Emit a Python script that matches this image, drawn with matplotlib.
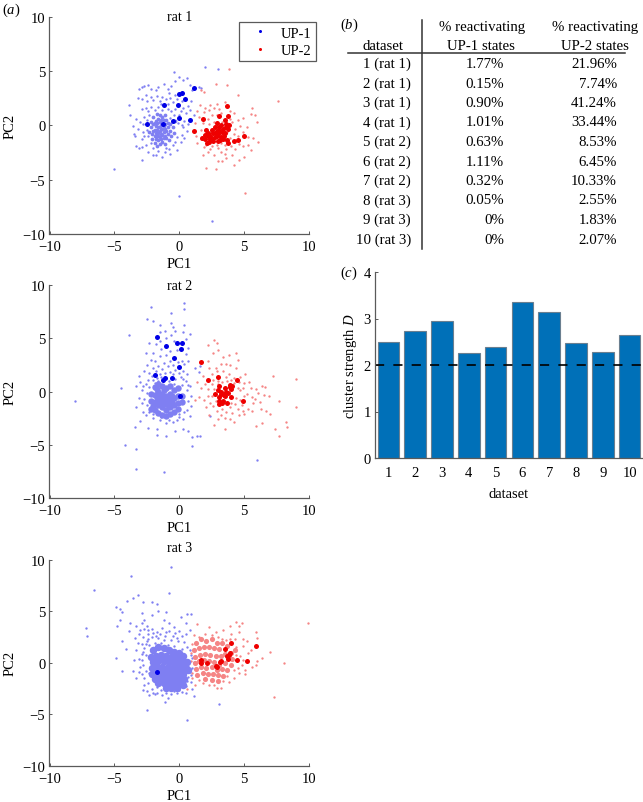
import numpy as np
from matplotlib import pyplot as plt

plt.rcParams['font.family'] = ['Liberation Serif', 'DejaVu Serif']
plt.rcParams['mathtext.fontset'] = 'custom'
plt.rcParams['mathtext.rm'] = 'Liberation Serif'
plt.rcParams['mathtext.it'] = 'Liberation Serif:italic'

W, H = 643, 803
GREY = '#5a5a5a'
BLUE, RED = '#0000e6', '#ee0000'
FAINT_BLUE, FAINT_RED = '#7f7ff2', '#f58585'

# values, (PC1, PC2)
rat1_up1 = [(-5.0, -4.0), (0.0, -6.5), (2.5, -8.8), (-0.4, 4.9), (2.0, 5.35), (3.0, 5.2), (-3.9, 1.9), (-3.8, 0.9),
            (-3.6, -0.1), (-3.5, -0.8), (-3.3, -1.9), (-3.2, -0.3), (-3.1, -2.1), (-2.9, -3.2), (-3.1, 3.3), (-2.9, 3.5),
            (-2.7, 3.6), (-2.4, 3.7), (-2.2, 3.3), (-1.8, 3.2), (-1.6, 3.5), (-1.2, 3.8), (-0.9, 3.3), (-0.8, 3.0),
            (-0.6, 3.6), (-0.3, 4.1), (0.0, 4.4), (0.3, 4.2), (0.6, 4.3), (0.8, 3.7), (1.0, 3.2), (1.5, 3.5), (1.7, 3.4),
            (-3.2, 2.5), (-2.9, 2.4), (-2.6, 2.8), (-2.5, 2.2), (-2.2, 2.6), (-2.0, 2.3), (-1.7, 2.7), (-1.5, 2.2),
            (-1.3, 2.6), (-1.0, 2.4), (-0.7, 2.5), (-0.5, 2.1), (-0.3, 2.8), (0.2, 2.2), (0.3, 1.6), (0.7, 1.8), (0.9, 2.2),
            (-2.9, 1.5), (-2.6, 1.6), (-2.4, 1.3), (-2.2, 1.7), (-1.9, 1.4), (-1.6, 1.7), (-1.3, 1.4), (-0.9, 1.5),
            (-0.6, 1.3), (-0.3, 1.5), (0.1, 1.3), (0.5, 1.1), (0.8, 1.4), (1.1, 0.9), (0.4, 0.4), (0.7, 0.1), (0.3, -0.2),
            (0.6, -0.5), (-3.0, 0.3), (-2.8, -0.6), (-2.9, -1.3), (-2.7, 0.8), (-2.6, -1.8), (-2.4, -2.5), (-2.2, -1.6),
            (-2.0, -2.7), (-1.6, -2.4), (-1.3, -2.9), (-1.0, -2.1), (-0.7, -2.6), (-0.5, -1.8), (-0.2, -2.3), (0.1, -1.5),
            (0.2, -0.9), (-0.2, -1.1), (-0.1, 0.2), (-0.4, 0.9), (-0.7, 0.7), (-2.5, 0.5), (-2.3, 0.9), (-2.5, -0.4),
            (-2.4, -1.0), (-3.3, 0.6), (-3.4, -1.0), (-2.8, 0.1), (-2.7, -1.0), (-2.9, -2.0), (-2.0, -2.1), (-1.8, -2.7),
            (-1.1, -2.5), (-0.8, -2.2), (-0.3, -1.5), (0.4, -1.2), (0.0, 0.9), (0.2, 0.0), (-0.2, 2.4), (-0.9, 2.0), (-1.4, 2.0)]
rat1_up1_core = [(-2.2, -0.2), (-2.2, 0.3), (-2.1, -0.8), (-2.1, -1.3), (-2.0, 0.8), (-2.0, 0.1), (-1.9, -0.4), (-1.9, -1.0), (-1.9, -1.6),
                 (-1.8, 0.4), (-1.8, -0.1), (-1.8, -0.7), (-1.8, -1.3), (-1.7, 1.0), (-1.7, 0.2), (-1.7, -0.4), (-1.7, -1.0), (-1.7, -1.9),
                 (-1.6, 0.6), (-1.6, -0.2), (-1.6, -0.7), (-1.6, -1.4), (-1.5, 0.9), (-1.5, 0.3), (-1.5, -0.5), (-1.5, -1.1), (-1.5, -1.7),
                 (-1.4, 0.5), (-1.4, 0.0), (-1.4, -0.8), (-1.4, -1.3), (-1.3, 0.8), (-1.3, -0.3), (-1.3, -0.9), (-1.3, -1.5), (-1.2, 0.5),
                 (-1.2, -0.6), (-1.2, -1.2), (-1.1, 0.9), (-1.1, 0.1), (-1.1, -0.3), (-1.1, -1.0), (-1.1, -1.7), (-1.0, 0.5), (-1.0, -0.5),
                 (-1.0, -1.2), (-0.9, 0.2), (-0.9, -0.2), (-0.9, -0.8), (-0.8, -1.4), (-0.7, 0.1), (-0.7, -0.5), (-0.6, -1.0), (-0.5, -0.2),
                 (-0.4, -0.7), (-0.3, 0.4), (-2.3, -0.6), (-2.0, -0.5), (-1.6, -1.0), (-1.4, -0.3), (-1.9, 0.2), (-1.2, -0.1), (-1.5, -0.2)]
rat1_up2 = [(7.6, 2.2), (5.1, -6.2), (4.5, 2.8), (1.7, 3.2), (1.9, 3.1), (3.8, 5.2), (2.8, 3.8), (3.7, 3.7), (5.6, 1.6),
            (5.5, 1.0), (6.0, 0.3), (5.8, 0.9), (6.1, -1.5), (5.7, -1.2), (5.3, -1.8), (5.5, -2.3), (5.0, -2.9), (4.3, -2.2),
            (4.6, -3.2), (4.2, -3.7), (3.6, -3.0), (3.3, -3.3), (3.0, -3.3), (2.1, -3.9), (2.8, -4.0), (1.8, -2.7),
            (1.9, -2.0), (1.4, -1.6), (1.3, -1.0), (1.2, 0.2), (1.5, 0.8), (1.4, 1.3), (1.9, 1.2), (2.3, 1.4), (2.7, 1.6),
            (3.1, 1.5), (3.5, 2.1), (3.9, 1.3), (4.2, 1.1), (4.5, 0.5), (4.9, 0.7), (4.7, -0.1), (5.2, -0.2), (4.9, -0.6),
            (5.3, -1.1), (4.5, -1.0), (4.6, -1.7), (4.0, -1.9), (3.6, -2.2), (3.2, -2.5), (2.7, -2.7), (2.4, -2.2),
            (2.1, -1.8), (1.7, -1.3), (1.7, -0.4), (1.8, 0.2), (2.2, 0.6), (2.5, 0.9), (2.9, 0.9), (2.3, 0.1), (2.7, 0.3),
            (3.3, 0.3), (3.7, 0.1), (4.1, 0.3), (4.3, -0.3), (2.0, -0.9), (2.4, -0.7), (2.6, -1.3), (2.9, -1.8), (3.2, -1.6),
            (3.5, -1.8), (3.9, -1.2), (4.2, -0.8), (3.1, -0.3), (3.4, -0.6), (2.8, -0.5), (3.7, -0.6), (2.5, -1.9), (3.0, -2.1),
            (2.0, 1.6), (2.4, 1.9), (2.9, 2.0), (3.2, 1.1), (1.6, 1.9), (3.5, -2.6), (4.1, -2.7), (4.9, -1.9), (2.2, -2.5), (3.9, 0.6)]
rat1_up1_big = [(-2.5, 0.1), (-1.23, 0.15), (-0.5, 0.35), (-0.05, 0.7), (0.85, 0.5), (-1.15, 1.87), (-0.1, 1.85), (0.46, 2.4),
                (0.0, 2.9), (0.2, 3.0), (1.13, 3.43)]
rat1_up2_big = [(1.15, -0.5), (1.8, 0.6), (3.65, 1.8), (3.05, 0.85), (3.77, 0.85), (3.5, 0.5), (2.9, 0.25), (2.1, -0.4),
                (2.2, -0.7), (2.0, -1.3), (1.75, -1.15), (2.6, -0.7), (2.9, -0.5), (3.1, -0.2), (3.4, -0.35), (3.85, 0.0),
                (3.75, -0.35), (2.9, -1.0), (3.0, -1.45), (2.6, -1.45), (3.25, -1.1), (3.75, -1.6), (4.2, -1.45), (4.55, -1.35),
                (5.0, -1.0), (2.15, -1.6), (2.35, -1.3), (3.5, -0.7), (2.75, -0.2), (3.3, -0.65), (2.4, -1.0), (3.0, -0.8),
                (2.25, -1.0), (2.5, -0.4), (2.75, -1.1), (3.1, -0.55), (3.45, -1.0), (3.6, -0.2), (3.2, 0.05), (2.55, -1.25),
                (3.7, -1.35), (3.35, -1.3), (2.85, -0.75), (3.6, 0.1), (3.15, -1.35), (1.95, -0.9), (2.3, -1.55)]

rat2_up1 = [(-8.0, -0.9), (-3.9, 5.3), (-4.5, 0.3), (-4.2, -5.0), (-3.3, -5.4), (-3.3, -7.3), (-1.2, -7.6), (6.0, -6.4), (-2.2, 7.9),
            (-2.5, 6.8), (0.4, 8.3), (0.4, 7.7), (-0.6, 7.4), (-0.6, 6.4), (-0.5, 6.1), (-2.0, 6.6), (-1.5, 6.2), (0.4, 6.2),
            (1.0, -5.1), (1.4, -4.2), (1.6, -4.2), (1.0, -4.3), (0.7, -3.7), (0.3, -3.5), (-0.3, -3.7), (-1.0, -4.2), (-1.7, -4.1),
            (-1.7, -3.5), (-2.4, -3.4), (-3.0, -2.8), (-3.4, -3.3), (-2.8, -1.9), (-3.3, -1.5), (-3.1, -0.6), (-3.3, 0.5),
            (-3.0, 0.9), (-3.1, 1.5), (-2.7, 1.9), (-2.9, 0.1), (-2.5, 2.5), (-2.2, 3.0), (-2.6, 3.6), (-2.0, 3.6), (-1.8, 4.5),
            (-2.3, 4.6), (-1.5, 5.6), (-1.1, 5.7), (-0.6, 5.3), (-0.3, 5.7), (0.3, 5.6), (0.8, 5.4), (0.5, 4.9), (0.7, 4.1),
            (-0.4, 4.7), (-1.0, 5.0), (-1.5, 4.7), (-1.4, 4.0), (-0.7, 3.8), (-0.2, 3.9), (0.5, 3.5), (0.7, 2.9), (0.4, 2.6),
            (-1.9, 2.9), (-1.5, 3.3), (-1.0, 3.4), (-0.7, 2.9), (-1.2, 2.7), (-1.6, 2.4), (-2.0, 2.2), (-2.3, 1.7), (-1.8, 1.9),
            (-1.3, 2.1), (-0.9, 2.4), (-0.5, 2.5), (-0.1, 2.8), (0.2, 2.9), (-0.3, 2.0), (0.3, 1.9), (0.6, 1.6), (-0.7, 1.8),
            (-1.1, 1.7), (-1.5, 1.6), (-2.4, 1.1), (-2.0, 1.1), (-1.6, 1.0), (-0.8, 1.0), (-0.3, 1.2), (0.1, 1.4), (0.5, 1.0),
            (0.8, 0.5), (-2.6, 0.7), (0.2, 0.6), (0.6, 0.1), (0.9, -0.4), (0.7, -0.9), (0.9, -1.4), (0.4, -1.9), (0.0, -2.4),
            (-0.5, -2.9), (-1.0, -3.0), (-1.5, -2.7), (-2.0, -2.5), (-2.5, -1.3), (-2.7, -0.7), (-2.5, -0.1), (-2.3, 0.4),
            (1.2, 2.2), (1.5, 1.8), (1.6, 2.4), (2.4, -2.3), (0.0, -2.1), (-2.6, -2.2), (-2.3, -1.9), (-2.0, -2.1), (-1.4, -2.4),
            (-0.8, -2.7), (-0.2, -2.7), (0.3, -2.6), (0.8, -2.3), (0.6, -1.7), (-2.9, -1.1), (-2.8, 0.5), (-1.4, 1.4), (-1.0, 1.3),
            (-0.5, 1.6), (0.0, 1.7), (0.3, 1.2), (-1.9, 0.8), (-0.4, 0.7), (0.7, 0.6), (-2.1, 1.5), (-1.7, 1.3)]
rat2_up1_core = [(-2.2, -0.2), (-2.2, -0.9), (-2.2, -1.6), (-1.9, 0.4), (-1.9, -0.3), (-1.9, -1.0), (-1.9, -1.7), (-1.6, 0.7), (-1.6, 0.0),
                 (-1.6, -0.7), (-1.6, -1.3), (-1.6, -2.0), (-1.3, 0.5), (-1.3, -0.2), (-1.3, -0.9), (-1.3, -1.5), (-1.3, -2.2), (-1.0, 0.3),
                 (-1.0, -0.4), (-1.0, -1.0), (-1.0, -1.7), (-1.0, -2.3), (-0.7, 0.5), (-0.7, -0.2), (-0.7, -0.9), (-0.7, -1.5), (-0.7, -2.1),
                 (-0.4, 0.1), (-0.4, -0.6), (-0.4, -1.3), (-0.4, -1.9), (-0.1, 0.3), (-0.1, -0.4), (-0.1, -1.1), (-0.1, -1.6), (0.2, -0.4),
                 (0.2, -1.0), (-1.15, -0.6), (-1.45, -0.5), (-0.85, -0.7), (-1.15, -1.2), (-0.85, -1.25), (-1.45, -1.1), (-1.75, -0.5),
                 (-0.55, -0.45), (-0.55, -1.0), (-1.75, 0.2), (-2.0, -1.35), (-1.15, 0.1)]
rat2_up2 = [(9.0, 1.2), (9.0, -1.5), (8.2, -2.9), (8.3, -3.3), (7.4, -3.5), (7.7, -4.2), (7.2, 1.5), (7.7, -0.9), (6.9, -0.4), (7.0, -2.1),
            (6.7, -1.8), (6.4, -3.0), (5.9, -3.2), (6.3, -1.6), (6.2, -1.0), (6.4, 0.5), (6.6, 0.4), (6.1, -0.1), (5.6, -0.5), (5.9, 0.2),
            (5.4, 0.9), (5.1, 1.6), (5.0, 0.8), (5.2, -0.2), (4.7, 0.1), (4.8, -1.3), (5.3, -1.6), (5.6, -1.8), (4.6, -2.2), (4.2, -2.9),
            (3.5, -2.5), (2.7, -3.1), (3.5, -3.5), (2.3, -2.2), (2.4, -1.1), (1.9, -0.8), (1.5, -0.5), (1.2, -0.8), (2.2, 0.2), (2.0, 0.7),
            (2.5, 0.7), (2.8, -0.9), (2.3, 2.2), (2.2, 2.9), (2.6, 3.6), (2.7, 4.8), (2.9, 4.6), (2.2, 4.4), (3.0, 3.9), (3.4, 3.2), (3.8, 3.4),
            (4.4, 3.6), (4.5, 3.0), (4.4, 2.2), (3.9, 2.5), (3.2, 2.6), (2.8, 2.2), (2.9, 1.9), (3.4, 1.9), (3.8, 1.6), (4.2, 1.3), (4.7, 1.4),
            (3.3, 0.9), (3.7, 1.0), (4.2, 0.8), (4.5, 0.3), (4.4, -0.6), (4.3, -1.2), (3.9, -1.5), (3.6, -1.9), (2.9, -1.8), (2.5, -0.4),
            (2.7, 0.2), (4.7, -0.8), (4.1, -2.0), (1.8, 1.5), (2.5, 1.6), (3.0, 0.7), (5.7, -1.1), (5.0, -2.1), (3.2, -2.2), (1.4, 0.9),
            (2.2, -0.4), (2.6, 1.1), (3.0, 1.0), (3.6, 1.4), (4.0, 1.1), (4.6, 0.9), (4.9, 0.3), (5.0, -0.4), (4.5, -1.6), (4.0, -1.1), (3.3, -1.6),
            (2.6, -1.4), (2.1, -1.5), (1.7, 0.3), (5.5, 0.3), (5.8, -0.7), (6.5, -0.3), (4.9, -1.8), (3.0, -2.6), (3.9, -2.6), (3.6, 2.6)]
rat2_up1_big = [(-1.75, 5.15), (-1.05, 4.25), (-0.2, 4.6), (0.25, 4.55), (0.1, 4.0), (-0.4, 3.1), (0.0, 2.3), (-1.9, 1.55), (-1.25, 1.1),
                (-1.1, 1.3), (-0.55, 1.3), (0.05, -0.4)]
rat2_up2_big = [(1.65, 2.75), (2.25, 1.1), (3.0, 1.4), (4.45, 1.05), (4.95, -0.9), (3.05, 0.5), (2.75, -0.25), (3.0, 0.1), (3.25, 0.0),
                (3.55, 0.3), (3.9, 0.6), (4.1, 0.5), (4.0, 0.2), (3.75, -0.15), (4.0, -0.5), (3.45, -0.3), (3.1, -0.55), (3.1, -0.9),
                (3.1, -1.2), (3.4, -0.85), (3.65, -1.1), (3.5, -0.4), (3.3, -1.05), (3.9, 0.4), (3.2, -0.2), (3.6, -0.05)]

rat3_up1 = [(-0.6, 9.3), (-3.7, 8.4), (-6.6, 7.1), (-0.8, 6.8), (-3.6, 6.3), (-4.0, 6.0), (-3.2, 6.6), (-2.8, 5.9), (-2.1, 5.9), (-1.7, 5.7),
            (-7.2, 3.4), (-7.1, 2.6), (-4.9, 5.4), (-4.6, 5.2), (-4.4, 4.9), (-4.6, 4.2), (-4.8, 3.6), (-3.8, 3.9), (-3.9, 3.1), (-4.4, 2.1), (-4.1, 1.3),
            (-4.9, 0.5), (-4.4, -0.8), (-3.6, -0.8), (-3.3, -1.5), (-3.1, -0.9), (-3.1, 0.4), (-3.3, 1.2), (-2.9, 1.8), (-3.1, 2.8), (-3.3, 3.6),
            (-2.9, 4.8), (-2.7, 4.2), (-2.5, 3.6), (-2.1, 4.6), (-1.6, 5.0), (-1.2, 4.2), (-1.0, 4.9), (-0.8, 3.9), (-0.4, 3.5), (0.1, 4.4), (0.6, 4.7),
            (0.9, 4.7), (0.5, 3.9), (0.8, 3.2), (0.2, 2.6), (-0.3, 2.9), (-0.8, 3.1), (-1.3, 3.4), (-1.7, 3.0), (-2.1, 3.3), (-2.4, 2.8), (-2.8, 2.5),
            (-2.5, 2.1), (-2.1, 2.5), (-1.6, 2.4), (-1.1, 2.6), (-0.6, 2.2), (-0.1, 2.1), (0.4, 2.0), (0.8, 1.2), (0.9, 0.8), (0.6, 1.5), (0.2, 1.3),
            (-2.7, 1.4), (-2.3, 1.7), (-1.9, 1.9), (-1.4, 1.9), (-0.9, 1.7), (-0.4, 1.6), (-2.9, 0.9), (-2.6, 0.8), (-2.8, -0.2), (-2.6, -0.8), (-2.7, -1.5),
            (-2.4, -2.0), (-2.5, -2.7), (-2.1, -2.5), (-2.3, -3.1), (-1.9, -3.0), (-1.3, -3.1), (-1.1, -3.8), (-0.9, -3.4), (-0.6, -3.0), (-0.2, -2.9),
            (0.2, -2.8), (0.5, -2.9), (1.0, -2.5), (-2.5, -4.6), (0.6, -5.5), (3.1, -4.0), (1.1, -3.2), (0.9, -1.9), (0.9, -1.2), (1.0, -0.5),
            (1.0, 0.5), (-2.2, 0.2), (-2.3, -1.0), (-2.0, 1.1), (-1.7, -2.3), (-1.4, -2.6), (0.5, -2.2), (0.7, -1.4), (0.7, -0.3),
            (-3.0, 3.2), (-2.7, 3.3), (-2.9, 3.9), (-2.4, 3.2), (-2.0, 2.9), (-1.5, 2.8), (-1.0, 3.0), (-0.5, 2.6), (0.0, 3.1), (0.5, 2.8), (-3.2, 1.9),
            (-3.5, 0.3), (-3.4, 2.4), (-2.6, 1.8), (-2.8, 1.1), (-2.4, 2.3), (-1.8, 2.6), (-1.2, 2.2), (-0.2, 2.4), (-2.9, 0.3), (-3.0, -0.4), (-2.9, -1.1),
            (-2.7, -2.1), (-2.8, -2.6), (-2.0, -2.9), (-1.7, -2.9), (-1.0, -2.9), (-0.4, -2.7), (0.0, -2.6), (0.6, -1.8), (0.8, -0.9), (1.1, 0.1)]
rat3_up1_core = [(-2.0, 1.2), (-1.6, 1.5), (-1.2, 1.4), (-0.8, 1.2), (-0.4, 1.1), (0.0, 1.0), (0.3, 0.7), (-2.2, 0.6), (-1.8, 0.7), (-1.4, 0.8),
                 (-1.0, 0.7), (-0.6, 0.6), (-0.2, 0.5), (0.2, 0.3), (0.6, 0.1), (-2.0, 0.1), (-1.6, 0.2), (-1.2, 0.2), (-0.8, 0.1), (-0.4, 0.0),
                 (0.0, -0.1), (0.4, -0.2), (-2.1, -0.5), (-1.7, -0.4), (-1.3, -0.4), (-0.9, -0.4), (-0.5, -0.5), (-0.1, -0.5), (0.3, -0.6), (0.7, -0.7),
                 (-2.1, -1.1), (-1.7, -1.0), (-1.3, -1.0), (-0.9, -1.0), (-0.5, -1.0), (-0.1, -1.0), (0.3, -1.1), (-1.9, -1.6), (-1.5, -1.5), (-1.1, -1.5),
                 (-0.7, -1.5), (-0.3, -1.5), (0.1, -1.5), (0.4, -1.6), (-1.6, -2.0), (-1.2, -2.0), (-0.8, -2.0), (-0.4, -2.0), (0.0, -2.0), (0.3, -2.1),
                 (-1.0, -2.4), (-0.6, -2.4), (-0.2, -2.4), (-1.4, 0.4), (-1.0, 0.35), (-0.6, 0.25), (-1.5, -0.7), (-1.1, -0.7), (-0.7, -0.7), (-0.3, -0.75),
                 (-1.1, -1.25), (-0.7, -1.25), (-0.3, -1.25), (-0.9, -1.75), (-0.5, -1.75)]
rat3_up2 = [(9.9, 3.9), (8.1, 0.0), (7.0, 1.1), (7.3, -3.3), (6.4, 0.5), (5.9, 3.0), (6.0, 2.4), (5.9, -0.2), (5.6, -0.4), (5.1, -0.7), (5.1, -1.1),
            (6.0, 0.2), (5.5, 1.2), (4.9, 1.6), (5.2, 2.1), (4.9, 2.3), (4.6, 3.6), (4.4, 4.0), (4.8, 3.9), (4.6, 3.0), (4.0, 2.8), (3.9, 3.6), (3.4, 3.2),
            (2.3, 3.5), (2.0, 2.8), (1.4, 3.8), (1.1, 2.7), (2.8, 3.0), (3.0, 2.5), (3.6, 2.2), (4.3, 2.3), (4.7, 0.7), (4.9, 0.3), (4.5, -0.5), (4.6, -1.0),
            (4.2, -1.5), (3.8, -1.9), (3.2, -2.4), (2.9, -2.4), (2.3, -2.1), (1.8, -2.0), (1.2, -2.1), (0.6, -2.5), (1.0, -1.5), (0.8, -0.7),
            (1.5, 2.5), (2.5, 2.7), (3.3, 2.3), (4.0, 1.9), (4.4, 1.5), (4.4, 0.8), (4.2, -0.7), (3.7, -1.3), (3.4, -1.8), (2.7, -2.1), (1.5, -1.7), (1.0, -1.0),
            (0.9, 0.2), (0.9, 1.0), (1.0, 1.8), (4.8, -0.2), (3.9, 2.3), (5.3, 1.0)]
rat3_up2_core = [(1.3, 1.9), (1.7, 2.3), (2.1, 2.1), (2.5, 2.3), (2.9, 1.9), (3.3, 1.9), (3.7, 1.6), (1.1, 1.2), (1.5, 1.4), (1.9, 1.5), (2.3, 1.5),
                 (2.7, 1.4), (3.1, 1.3), (3.5, 0.9), (4.0, 1.0), (4.3, 1.2), (1.2, 0.6), (1.6, 0.8), (2.0, 0.9), (2.4, 0.8), (2.8, 0.7), (3.2, 0.7), (4.1, 0.4),
                 (1.2, 0.0), (1.5, 0.2), (1.9, 0.3), (2.3, 0.2), (2.7, 0.1), (3.1, -0.2), (3.5, 0.0), (4.0, -0.2), (1.3, -0.6), (1.7, -0.4), (2.1, -0.5),
                 (2.5, -0.4), (2.9, -0.7), (3.3, -0.6), (3.7, -0.7), (1.4, -1.2), (1.8, -1.0), (2.2, -1.1), (2.6, -1.1), (3.0, -1.2), (3.4, -1.3), (2.0, -1.6),
                 (2.5, -1.7), (3.0, -1.8)]
rat3_up1_big = [(-1.7, -0.87)]
rat3_up2_big = [(1.65, 0.25), (1.7, 0.0), (2.15, -0.05), (2.8, -0.35), (2.9, -0.4), (3.15, 0.1), (3.25, 0.2), (3.55, 1.3), (4.0, 1.9), (5.9, 1.6),
                (5.2, 0.2), (4.45, 0.25), (3.9, 1.0), (3.85, 0.75), (3.65, 0.65), (3.75, 0.4)]

datasets = ['1 (rat 1)', '2 (rat 1)', '3 (rat 1)', '4 (rat 1)', '5 (rat 2)', '6 (rat 2)', '7 (rat 2)', '8 (rat 3)', '9 (rat 3)', '10 (rat 3)']
react_up1 = ['1.77%', '0.15%', '0.90%', '1.01%', '0.63%', '1.11%', '0.32%', '0.05%', '0%', '0%']
react_up2 = ['21.96%', '7.74%', '41.24%', '33.44%', '8.53%', '6.45%', '10.33%', '2.55%', '1.83%', '2.07%']

dataset_ids = list(range(1, 11))
cluster_strength = [2.49, 2.74, 2.94, 2.26, 2.38, 3.35, 3.15, 2.48, 2.27, 2.64]
threshold = 2


def axes_px(fig, left, top, right, bottom):
    return fig.add_axes([left / W, 1 - bottom / H, (right - left) / W, (bottom - top) / H])


def style_axes(ax):
    for s in ['top', 'right']:
        ax.spines[s].set_visible(False)
    for s in ['left', 'bottom']:
        ax.spines[s].set_color(GREY)
        ax.spines[s].set_linewidth(0.9)
    ax.tick_params(direction='in', length=2.5, width=0.7, color=GREY, labelsize=10.5, pad=3)


def scatter_panel(fig, box, title, title_y, up1, up2, up1_core, up2_core, core_ms, up1_big, up2_big):
    ax = axes_px(fig, *box)
    for pts, col, ms in [(up1, FAINT_BLUE, 1.7), (up2, FAINT_RED, 1.7), (up1_core, FAINT_BLUE, core_ms[0]), (up2_core, FAINT_RED, core_ms[1]),
                         (up1_big, BLUE, 3.6), (up2_big, RED, 3.6)]:
        if len(pts) == 0:
            continue
        a = np.array(pts)
        ax.plot(a[:, 0], a[:, 1], 'o', color=col, ms=ms, mew=0, clip_on=False)
    ax.set_xlim(-10, 10)
    ax.set_ylim(-10, 10)
    ax.set_xticks([-10, -5, 0, 5, 10])
    ax.set_yticks([-10, -5, 0, 5, 10])
    style_axes(ax)
    ax.tick_params(axis='x', pad=4.5)
    ax.set_xlabel('PC1', fontsize=10.5, labelpad=3)
    ax.set_ylabel('PC2', fontsize=10.5, labelpad=0)
    ax.yaxis.set_label_coords(-0.128, 0.5)
    ax.text(0, title_y, title, ha='center', va='center', fontsize=10)
    return ax


fig = plt.figure(figsize=(W / 100, H / 100), dpi=100)

ax1 = scatter_panel(fig, (49.5, 17.5, 309, 235), 'rat 1', 10, rat1_up1, rat1_up2, rat1_up1_core, [], (2.7, 2.7), rat1_up1_big, rat1_up2_big)
scatter_panel(fig, (49.5, 286, 309, 499), 'rat 2', 10, rat2_up1, rat2_up2, rat2_up1_core, [], (4.6, 4.6), rat2_up1_big, rat2_up2_big)
scatter_panel(fig, (49.5, 560.7, 309, 767), 'rat 3', 11.2, rat3_up1, rat3_up2, rat3_up1_core, rat3_up2_core, (5.4, 3.7), rat3_up1_big, rat3_up2_big)

# legend on panel a
h1, = ax1.plot([], [], 'o', color=BLUE, ms=2.2, mew=0, label='UP-1')
h2, = ax1.plot([], [], 'o', color=RED, ms=2.2, mew=0, label='UP-2')
leg = ax1.legend(handles=[h1, h2], loc='upper right', bbox_to_anchor=(1.027, 0.975), fontsize=10.5, fancybox=False,
                 framealpha=1, edgecolor=GREY, borderpad=0.3, labelspacing=0.3, handlelength=2.3, handletextpad=0.3, borderaxespad=0)
leg.get_frame().set_linewidth(0.9)

# bars
ax_c = axes_px(fig, 375, 273, 643, 459)
ax_c.bar(dataset_ids, cluster_strength, width=0.81, color='#0070b8', edgecolor='#6a7f90', linewidth=0.8)
ax_c.plot([0.5, 10.5], [threshold, threshold], color='black', lw=1.2, dashes=(5.5, 5.5), dash_capstyle='butt', dash_joinstyle='miter',
          clip_on=False)
ax_c.set_xlim(0.5, 10.5)
ax_c.set_ylim(0, 4)
ax_c.set_xticks(dataset_ids)
ax_c.set_yticks([0, 1, 2, 3, 4])
style_axes(ax_c)
ax_c.tick_params(axis='x', length=0, pad=6)
ax_c.set_xlabel('dataset', fontsize=10.5, labelpad=5.5)
ax_c.set_ylabel('cluster strength $\\mathit{D}$', fontsize=10.5)
ax_c.yaxis.set_label_coords(-0.06, 0.5)

# table and panel letters are placed in pixel space
ov = fig.add_axes([0, 0, 1, 1], facecolor='none')
ov.set_xlim(0, W)
ov.set_ylim(H, 0)
ov.axis('off')
ov.plot([421.7, 421.7], [21, 250], color='#333333', lw=1.1)
ov.plot([348, 625], [54, 54], color='#333333', lw=1.1)
ov.text(383, 46, 'dataset', ha='center', va='center', fontsize=10.7)
ov.text(482, 28, '% reactivating', ha='center', va='center', fontsize=10.7)
ov.text(481, 46, 'UP-1 states', ha='center', va='center', fontsize=10.7)
ov.text(595, 28, '% reactivating', ha='center', va='center', fontsize=10.7)
ov.text(595, 46, 'UP-2 states', ha='center', va='center', fontsize=10.7)
for i in range(len(datasets)):
    y = 64.5 + i * 19.5
    ov.text(411, y, datasets[i], ha='right', va='center', fontsize=10.7)
    ov.text(504, y, react_up1[i], ha='right', va='center', fontsize=10.7)
    ov.text(617, y, react_up2[i], ha='right', va='center', fontsize=10.7)
ov.text(2, 10, '($\\mathit{a}$)', ha='left', va='center', fontsize=10.5)
ov.text(340, 25, '($\\mathit{b}$)', ha='left', va='center', fontsize=10.5)
ov.text(340, 273, '($\\mathit{c}$)', ha='left', va='center', fontsize=10.5)

fig.savefig('out.png', dpi=100)
